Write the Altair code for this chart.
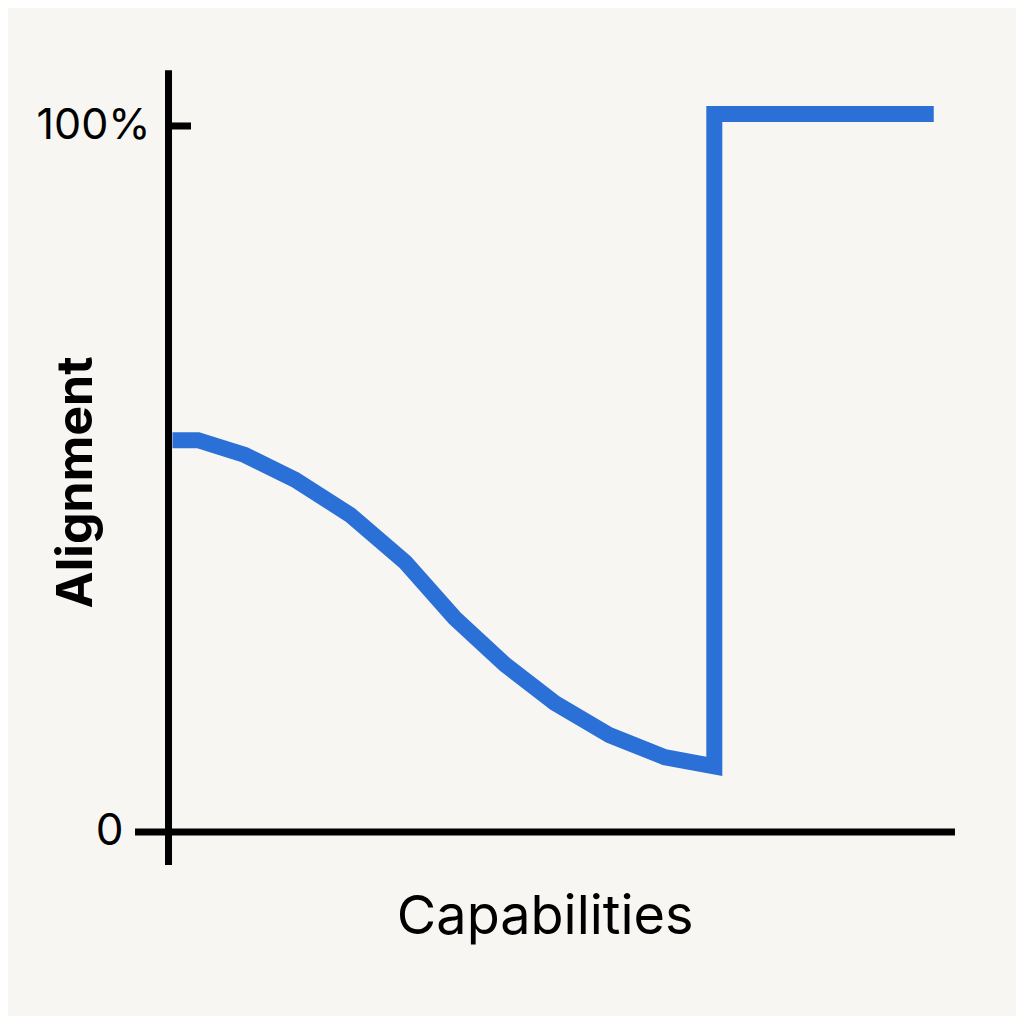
import altair as alt
import pandas as pd

# Curve values (Capabilities -> Alignment, percent)
cap = [0.5, 3.75, 9.7, 16.1, 23.1, 30.1, 36.4, 42.8, 49.1, 56.1, 63.1, 69.4, 69.4, 97.3]
ali = [55.5, 55.5, 53.4, 49.9, 44.9, 38.2, 30.3, 23.7, 18.3, 13.7, 10.6, 9.3, 101.7, 101.7]

tick_values = [0, 100]
tick_labels = ["0", "100%"]

x_title = "Capabilities"
y_title = "Alignment"

X_DOM = [-20.41, 107.76]
Y_DOM = [-26.06, 116.71]
W = 1008
H = 1008

bg = "#f7f6f2"
blue = "#2b70d6"
font = "Inter"

xs = alt.Scale(domain=X_DOM, nice=False, zero=False)
ys = alt.Scale(domain=Y_DOM, nice=False, zero=False)

line_df = pd.DataFrame({"x": cap, "y": ali, "o": list(range(len(cap)))})

curve = alt.Chart(line_df).mark_line(
    color=blue, strokeWidth=16, strokeCap="butt", strokeJoin="miter", clip=False
).encode(
    x=alt.X("x:Q", scale=xs, axis=None),
    y=alt.Y("y:Q", scale=ys, axis=None),
    order="o:Q",
)

# Axis lines (data coordinates)
axes_df = pd.DataFrame({
    "x": [0, -4.26, 0],
    "x2": [0, 100, 2.86],
    "y": [-4.67, 0, 100],
    "y2": [107.9, 0, 100],
})
axes = alt.Chart(axes_df).mark_rule(color="black", strokeWidth=7, strokeCap="butt").encode(
    x=alt.X("x:Q", scale=xs, axis=None),
    x2="x2:Q",
    y=alt.Y("y:Q", scale=ys, axis=None),
    y2="y2:Q",
)

lab_df = pd.DataFrame({"y": tick_values, "t": tick_labels, "x": [0, 0]})
labels0 = alt.Chart(lab_df[lab_df.t == "0"]).mark_text(
    align="right", baseline="middle", fontSize=44, font=font, dx=-45, color="black"
).encode(x=alt.X("x:Q", scale=xs, axis=None), y=alt.Y("y:Q", scale=ys, axis=None), text="t:N")
labels100 = alt.Chart(lab_df[lab_df.t == "100%"]).mark_text(
    align="right", baseline="middle", fontSize=43, font=font, dx=-18, color="black"
).encode(x=alt.X("x:Q", scale=xs, axis=None), y=alt.Y("y:Q", scale=ys, axis=None), text="t:N")

xt = alt.Chart(pd.DataFrame({"x": [47.9], "y": [-14.5], "t": [x_title]})).mark_text(
    align="center", baseline="alphabetic", fontSize=54, font=font, color="black"
).encode(x=alt.X("x:Q", scale=xs, axis=None), y=alt.Y("y:Q", scale=ys, axis=None), text="t:N")

yt = alt.Chart(pd.DataFrame({"x": [-9.7], "y": [49.5], "t": [y_title]})).mark_text(
    align="center", baseline="alphabetic", fontSize=50, font=font, fontWeight="bold",
    angle=270, color="black"
).encode(x=alt.X("x:Q", scale=xs, axis=None), y=alt.Y("y:Q", scale=ys, axis=None), text="t:N")

chart = alt.layer(axes, curve, labels0, labels100, xt, yt).properties(
    width=W, height=H, background=bg, padding=0, autosize=alt.AutoSizeParams(type="none")
).configure_view(stroke=None)

chart.save("out.html", embed_options={"renderer": "svg", "actions": False})
